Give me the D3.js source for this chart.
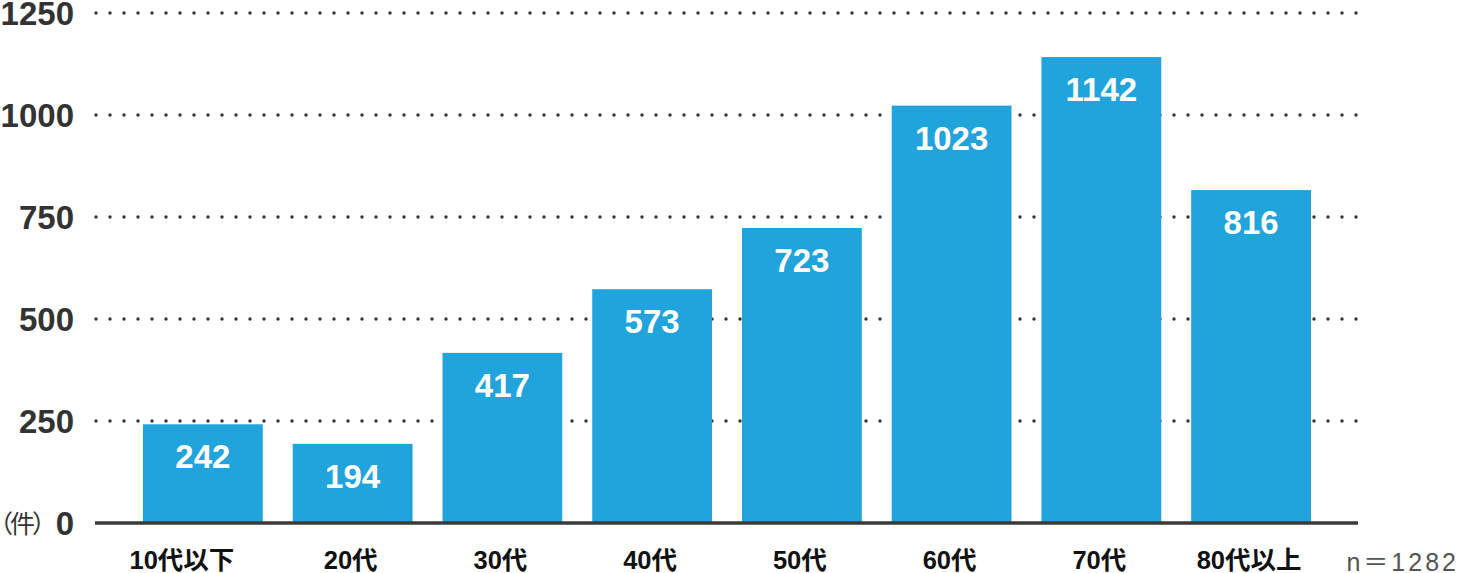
<!DOCTYPE html>
<html><head><meta charset="utf-8">
<script src="https://cdn.jsdelivr.net/npm/d3@7"></script>
<style>
html,body{margin:0;padding:0;background:#fff;}
svg{display:block;}
</style></head>
<body>
<svg id="chart" width="1457" height="573"></svg>
<script>
const categories = ["10代以下","20代","30代","40代","50代","60代","70代","80代以上"];
const values = [242,194,417,573,723,1023,1142,816];
const yTicks = [0,250,500,750,1000,1250];
const unitLabel = "（件）";
const noteLabel = "n＝1282";

const svg = d3.select("#chart");
const x = d3.scaleBand().domain(categories).range([143,1311]).paddingInner(0.2).paddingOuter(0);
const y = d3.scaleLinear().domain([0,1250]).range([523,13]);
const gridX0 = 96, gridX1 = 1358;
const latin = "'Liberation Sans', Arial, Helvetica, 'Noto Sans CJK JP', sans-serif";

// grid
svg.append("g").selectAll("line").data(yTicks.filter(d=>d>0)).join("line")
  .attr("x1",gridX0).attr("x2",gridX1)
  .attr("y1",d=>y(d)).attr("y2",d=>y(d))
  .attr("stroke","#333").attr("stroke-width",3.4)
  .attr("stroke-linecap","round").attr("stroke-dasharray","0 14");

// bars
svg.append("g").selectAll("rect").data(values).join("rect")
  .attr("x",(d,i)=>x(categories[i])).attr("width",x.bandwidth())
  .attr("y",d=>y(d)).attr("height",d=>y(0)-y(d))
  .attr("fill","#21a4dc");

// value labels
svg.append("g").selectAll("text").data(values).join("text")
  .attr("x",(d,i)=>x(categories[i])+x.bandwidth()/2)
  .attr("y",d=>y(d)+44)
  .attr("text-anchor","middle").attr("fill","#fff")
  .attr("font-family",latin).attr("font-weight","bold").attr("font-size",33)
  .text(d=>d);

// baseline
svg.append("line").attr("x1",gridX0-1).attr("x2",gridX1).attr("y1",y(0)).attr("y2",y(0))
  .attr("stroke","#3a3a3a").attr("stroke-width",3.5);

// y axis labels
const yAxis = d3.axisLeft(y).tickValues(yTicks).tickSize(0).tickPadding(0).tickFormat(d3.format("d"));
const gy = svg.append("g").attr("transform","translate(74,0)").call(yAxis);
gy.select(".domain").remove();
gy.selectAll("text").attr("font-family",latin).attr("font-weight","bold")
  .attr("font-size",33).attr("fill","#333").attr("dy","0.36em");

svg.append("text").attr("x",-12).attr("y",y(0)+10)
  .attr("font-family","'Noto Sans CJK JP', sans-serif").attr("font-size",25)
  .attr("letter-spacing",-3).attr("fill","#333")
  .text(unitLabel);

// x labels
const xAxis = d3.axisBottom(x).tickSize(0).tickPadding(0);
const gx = svg.append("g").attr("transform","translate(-2,569)").call(xAxis);
gx.select(".domain").remove();
gx.selectAll("text").attr("font-family",latin).attr("font-weight","bold")
  .attr("font-size",25.5).attr("fill","#111").attr("dy",0)
  .attr("dx",(d,i)=> i===0 ? -19 : 0);

svg.append("text").attr("x",1459).attr("y",571).attr("text-anchor","end")
  .attr("font-family",latin).attr("font-size",25).attr("letter-spacing",3).attr("fill","#555")
  .text(noteLabel);
</script>
</body></html>
